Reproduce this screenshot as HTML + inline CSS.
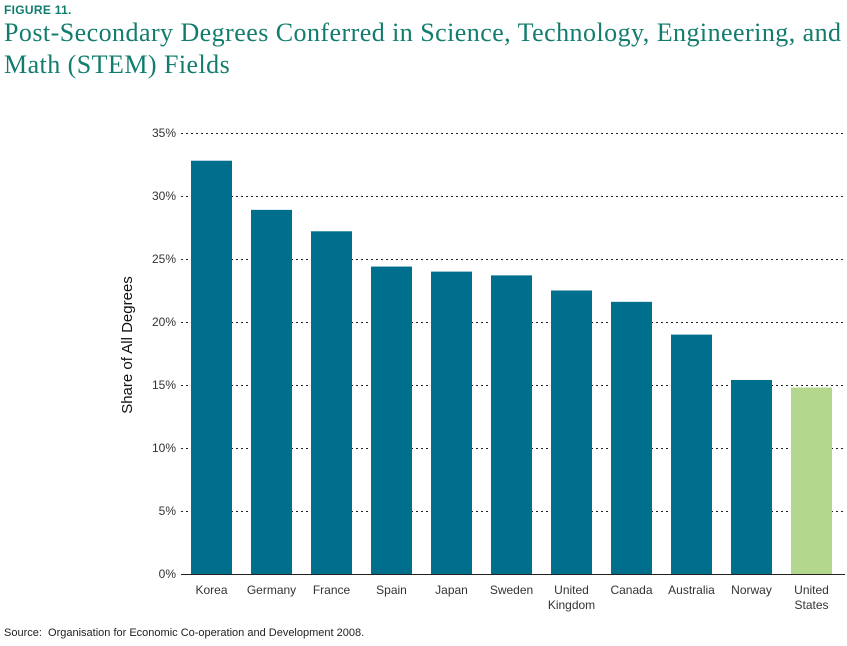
<!DOCTYPE html>
<html><head><meta charset="utf-8"><style>
body{margin:0;background:#fff;width:847px;height:646px;overflow:hidden;font-family:"Liberation Sans",sans-serif}
#fig{position:absolute;left:4px;top:3px;font-size:12px;font-weight:bold;color:#127d6e;letter-spacing:.3px}
#title{position:absolute;left:4px;top:17px;font-family:"Liberation Serif",serif;font-size:26px;line-height:32px;color:#127d6e;letter-spacing:.45px;white-space:nowrap}
#src{position:absolute;left:4px;top:627px;font-size:11px;color:#222}
svg{position:absolute;left:0;top:0}
</style></head><body>
<div id="fig">FIGURE 11.</div>
<div id="title">Post-Secondary Degrees Conferred in Science, Technology, Engineering, and<br>Math (STEM) Fields</div>
<div id="src">Source:&nbsp; Organisation for Economic Co-operation and Development 2008.</div>
<svg id="chart" width="847" height="646"></svg>
<script>
const categories=[["Korea"],["Germany"],["France"],["Spain"],["Japan"],["Sweden"],["United","Kingdom"],["Canada"],["Australia"],["Norway"],["United","States"]];
const values=[32.8,28.9,27.2,24.4,24.0,23.7,22.5,21.6,19.0,15.4,14.8];
const ticks=[0,5,10,15,20,25,30,35];
const tickLabels=["0%","5%","10%","15%","20%","25%","30%","35%"];
const NS="http://www.w3.org/2000/svg",svg=document.getElementById('chart');
const y=v=>574-v*12.6, x=i=>191+i*60;
function mk(t,a){const e=document.createElementNS(NS,t);for(const k in a)e.setAttribute(k,a[k]);svg.appendChild(e);return e;}
ticks.forEach((t,i)=>{
 const l=mk('line',{x1:181,x2:845,y1:y(t)+.5,y2:y(t)+.5,stroke:'#222','stroke-width':1,'stroke-dasharray':t===0?'none':'2,3'});
 
 
 const tx=mk('text',{x:176,y:y(t)+4,'text-anchor':'end','font-size':12,fill:'#333'});
 tx.textContent=tickLabels[i];
 
 
});
values.forEach((v,i)=>{
 const r=mk('rect',{x:x(i),y:y(v),width:41,height:574-y(v),fill:i===10?'#b3d78d':'#006f8e'});
 
 
 categories[i].forEach((s,j)=>{
  const t=mk('text',{x:x(i)+20.5,y:594+j*15,'text-anchor':'middle','font-size':12,fill:'#333'});
  t.textContent=s;
  
  
 });
});
const yt=mk('text',{x:132,y:345,'text-anchor':'middle','font-size':15,fill:'#111',transform:'rotate(-90 132 345)'});
yt.textContent='Share of All Degrees';


</script>
</body></html>
